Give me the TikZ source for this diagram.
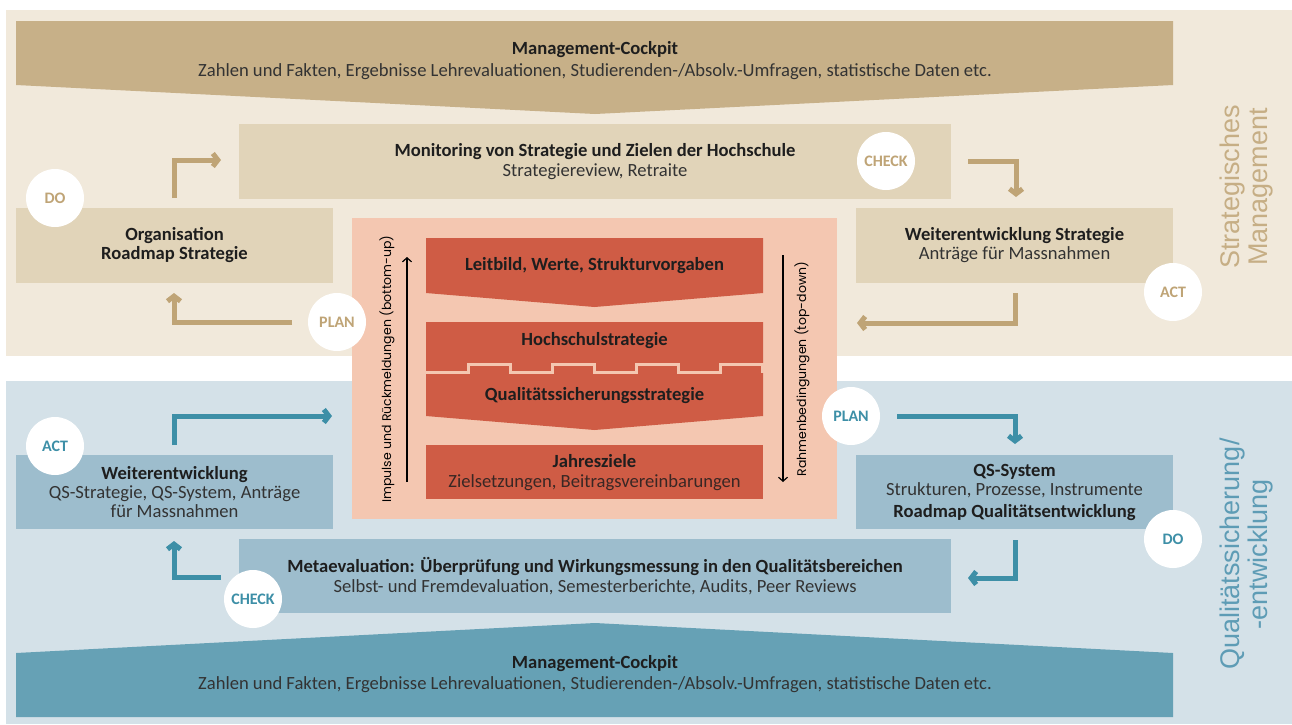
\documentclass[tikz,border=0pt]{standalone}
\usepackage{fontspec}
\setmainfont{Carlito}
\newfontfamily\labelfont{Poppins}
\newfontfamily\sidefont{Liberation Sans}
\usetikzlibrary{arrows.meta}
\definecolor{cream}{HTML}{F1E9DB}
\definecolor{tanband}{HTML}{C7B088}
\definecolor{tanbox}{HTML}{E1D4B9}
\definecolor{tanarrow}{HTML}{BFA476}
\definecolor{tanside}{HTML}{C6AE85}
\definecolor{rosebg}{HTML}{F4C7B1}
\definecolor{brick}{HTML}{CF5C45}
\definecolor{skybg}{HTML}{D4E1E8}
\definecolor{skybox}{HTML}{9DBDCD}
\definecolor{skyband}{HTML}{66A1B5}
\definecolor{tealarrow}{HTML}{3D8FA7}
\definecolor{tealside}{HTML}{5E9CB5}
\definecolor{ink}{HTML}{1E1E1E}
\definecolor{inkgrey}{HTML}{333333}
\tikzset{
	txt/.style={align=center,inner sep=0pt,text=ink,font=\fontsize{18.6}{20}\selectfont},
	tbox/.style={txt,fill=tanbox,minimum height=75pt},
	bbox/.style={txt,fill=skybox,minimum height=75pt},
	pdca/.style={circle,fill=white,minimum size=58pt,inner sep=0pt,font=\bfseries\fontsize{16}{16}\selectfont},
	flow/.style={line width=5pt,-{Straight Barb[length=5pt,width=13pt,line width=5pt]}},
	thin/.style={line width=1.2pt,-{Straight Barb[length=4pt,width=9pt]}},
	side/.style={rotate=90,align=center,font=\sidefont\fontsize{27}{28}\selectfont}
}
\newcommand{\sub}[1]{{\color{inkgrey}#1}}
\begin{document}
\begin{tikzpicture}[x=1pt,y=-1pt,line join=miter]
	\useasboundingbox (0,0) rectangle (1292,724);
	% backgrounds
	\fill[cream] (6,10) rectangle (1292,356);
	\fill[skybg] (6,381) rectangle (1292,724);
	\fill[tanband] (16,21) -- (1173,21) -- (1173,85) -- (595,114) -- (16,85) -- cycle;
	\fill[skyband] (16,653) -- (595,623) -- (1173,653) -- (1173,717) -- (16,717) -- cycle;
	\node[txt,font=\fontsize{18.6}{22}\selectfont] (cockpittop) at (595,61) {\textbf{Management-Cockpit}\\\sub{Zahlen und Fakten, Ergebnisse Lehrevaluationen, Studierenden-/Absolv.-Umfragen, statistische Daten etc.}};
	\node[txt,font=\fontsize{18.6}{21}\selectfont] (cockpitbot) at (595,674.5) {\textbf{Management-Cockpit}\\\sub{Zahlen und Fakten, Ergebnisse Lehrevaluationen, Studierenden-/Absolv.-Umfragen, statistische Daten etc.}};
	% strategic cycle
	\node[tbox,minimum width=712pt] (monitor) at (595,161.5) {\textbf{Monitoring von Strategie und Zielen der Hochschule}\\\sub{Strategiereview, Retraite}};
	\node[tbox,minimum width=317pt,font=\fontsize{18.6}{19}\selectfont] (orga) at (174.5,245.5) {\textbf{Organisation}\\\textbf{Roadmap Strategie}};
	\node[tbox,minimum width=317pt,font=\fontsize{18.6}{19}\selectfont] (weiterstrat) at (1014.5,245.5) {\textbf{Weiterentwicklung Strategie}\\\sub{Anträge für Massnahmen}};
	% quality cycle
	\node[bbox,minimum width=317pt,minimum height=74pt,font=\fontsize{18.6}{19}\selectfont] (weiterqs) at (174.5,492) {\textbf{Weiterentwicklung}\\\sub{QS-Strategie, QS-System, Anträge}\\\sub{für Massnahmen}};
	\node[bbox,minimum width=317pt,minimum height=74pt,font=\fontsize{18.6}{19}\selectfont] (qssys) at (1014.5,492) {\textbf{QS-System}\\\sub{Strukturen, Prozesse, Instrumente}\\[3pt]\textbf{Roadmap Qualitätsentwicklung}};
	\node[bbox,minimum width=712pt,minimum height=74pt] (meta) at (595,576) {\textbf{Metaevaluation: Überprüfung und Wirkungsmessung in den Qualitätsbereichen}\\\sub{Selbst- und Fremdevaluation, Semesterberichte, Audits, Peer Reviews}};
	% centre
	\fill[rosebg] (352,218) rectangle (837,519);
	\fill[brick] (426,238) -- (763,238) -- (763,293) -- (594.5,307) -- (426,293) -- cycle;
	\fill[brick] (426,322) -- (763,322) -- (763,416) -- (594.5,430) -- (426,416) -- cycle;
	\fill[brick] (426,445) rectangle (763,499);
	\draw[rosebg,line width=3pt] (426,372.5)
		\foreach \k in {0,1,2,3} {-- ++(42.1,0) |- ++(42.1,-8.5) -- ++(0,8.5)} ;
	\node[txt,font=\bfseries\fontsize{18.6}{20}\selectfont] (leitbild) at (594.5,265.5) {Leitbild, Werte, Strukturvorgaben};
	\node[txt,font=\bfseries\fontsize{18.6}{20}\selectfont] (hsstrat) at (594.5,341) {Hochschulstrategie};
	\node[txt,font=\bfseries\fontsize{18.6}{20}\selectfont] (qsstrat) at (594.5,396) {Qualitätssicherungsstrategie};
	\node[txt] (jahr) at (594.5,472.5) {\textbf{Jahresziele}\\{\color{ink!85!brick}Zielsetzungen, Beitragsvereinbarungen}};
	\coordinate (upbot) at (407,482);
	\coordinate (uptop) at (407,257);
	\coordinate (dntop) at (783,255);
	\coordinate (dnbot) at (783,482);
	\draw[thin] (upbot) -- (uptop);
	\draw[thin] (dntop) -- (dnbot);
	\node[rotate=90,inner sep=0pt,font=\labelfont\fontsize{12.5}{12.5}\selectfont] (bottomup) at (387,369) {Impulse und Rückmeldungen (bottom-up)};
	\node[rotate=90,inner sep=0pt,font=\labelfont\fontsize{12.5}{12.5}\selectfont] (topdown) at (802,369) {Rahmenbedingungen (top-down)};
	% side labels
	\node[side,text=tanside] (stratlabel) at (1246,187) {Strategisches\\Management};
	\node[side,text=tealside] (qslabel) at (1246,554) {Qualitätssicherung/\\-entwicklung};
	% arrows, strategic cycle
	\coordinate (a1) at (174,198); \coordinate (a1e) at (221,160);
	\coordinate (a2) at (968,161); \coordinate (a2e) at (1016,197);
	\coordinate (a3) at (1015,293); \coordinate (a3e) at (857,323);
	\coordinate (a4) at (292,322); \coordinate (a4e) at (174,293);
	\draw[flow,tanarrow] (a1) |- (a1e);
	\draw[flow,tanarrow] (a2) -| (a2e);
	\draw[flow,tanarrow] (a3) |- (a3e);
	\draw[flow,tanarrow] (a4) -| (a4e);
	% arrows, quality cycle
	\coordinate (b1) at (174,445); \coordinate (b1e) at (332,416);
	\coordinate (b2) at (897,416); \coordinate (b2e) at (1015,444);
	\coordinate (b3) at (1015,540); \coordinate (b3e) at (968,578);
	\coordinate (b4) at (221,577); \coordinate (b4e) at (174,541);
	\draw[flow,tealarrow] (b1) |- (b1e);
	\draw[flow,tealarrow] (b2) -| (b2e);
	\draw[flow,tealarrow] (b3) |- (b3e);
	\draw[flow,tealarrow] (b4) -| (b4e);
	% pdca circles
	\node[pdca,text=tanarrow] (sdo) at (55,198) {DO};
	\node[pdca,text=tanarrow] (splan) at (337,322) {PLAN};
	\node[pdca,text=tanarrow] (scheck) at (886,161) {CHECK};
	\node[pdca,text=tanarrow] (sact) at (1173,292) {ACT};
	\node[pdca,text=tealarrow] (qact) at (55,446) {ACT};
	\node[pdca,text=tealarrow] (qcheck) at (253,599) {CHECK};
	\node[pdca,text=tealarrow] (qplan) at (851,416) {PLAN};
	\node[pdca,text=tealarrow] (qdo) at (1173,539) {DO};
\end{tikzpicture}
\end{document}
